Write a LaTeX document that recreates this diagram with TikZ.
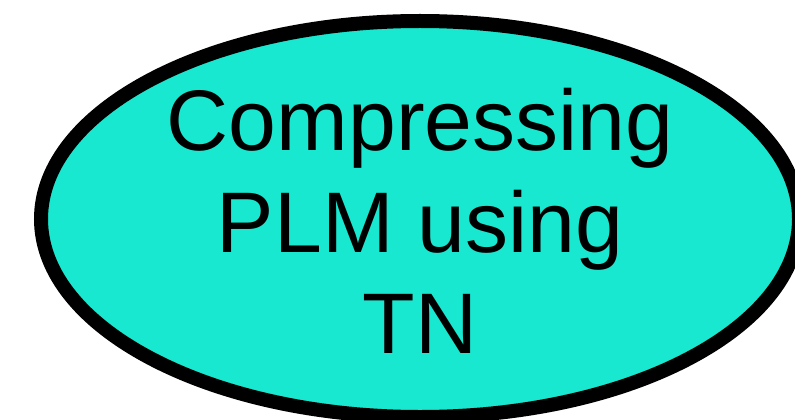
\documentclass[tikz,border=0pt]{standalone}
\usepackage{fontspec}
\setmainfont{Liberation Sans}
\usetikzlibrary{shapes.geometric}
\definecolor{bubblefill}{RGB}{25,232,208}
\tikzset{
  bubble/.style={ellipse, draw=black, line width=14bp, fill=bubblefill,
    minimum width=758bp, minimum height=396bp, inner sep=0pt},
  caption/.style={anchor=base, inner sep=0pt,
    font=\fontsize{86bp}{101bp}\selectfont}
}
\begin{document}
\begin{tikzpicture}[x=1bp,y=1bp]
  \useasboundingbox (0,0) rectangle (795,419);
  \node[bubble] (topic) at (420,200) {};
  \node[caption] (line1) at (420,269) {Compressing};
  \node[caption] (line2) at (420,167) {PLM using};
  \node[caption] (line3) at (420,66) {TN};
\end{tikzpicture}
\end{document}
